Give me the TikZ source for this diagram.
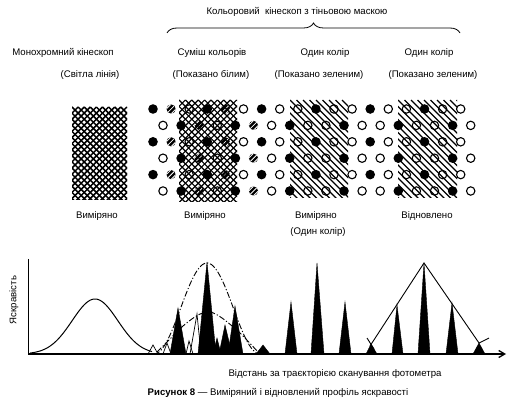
\documentclass[tikz,border=0pt]{standalone}
\usepackage{fontspec}
\setmainfont{Liberation Sans}
\usetikzlibrary{decorations.pathreplacing,arrows.meta}
\begin{document}
\begin{tikzpicture}[x=1pt,y=-1pt,
  lbl/.style={font=\fontsize{9.6}{11}\selectfont, inner sep=0pt, anchor=center},
  dashdot/.style={line width=0.9pt, dash pattern=on 6pt off 2pt on 1.2pt off 2pt},
  thinline/.style={line width=0.7pt},
  spike/.style={fill=black, draw=black, line width=0.4pt},
  ring/.style={line width=1.1pt},
  hatchline/.style={line width=1.1pt},
  crossline/.style={line width=1.2pt},
  monoline/.style={line width=1.5pt}]
\useasboundingbox (0,0) rectangle (532,419);

% ---- texts ----
\node[lbl] (title) at (297,12) {Кольоровий\ \ кінескоп з тіньовою маскою};
\draw[decorate, decoration={brace, amplitude=10pt}, line width=0.8pt] (167,33) -- (460,33);
\node[lbl] (mono) at (63,53) {Монохромний кінескоп};
\node[lbl] (monob) at (90,75) {(Світла лінія)};
\node[lbl] (mix) at (212,53) {Суміш кольорів};
\node[lbl] (mixb) at (211,75) {(Показано білим)};
\node[lbl] (one) at (325,53) {Один колір};
\node[lbl] (oneb) at (319,75) {(Показано зеленим)};
\node[lbl] (two) at (429,53) {Один колір};
\node[lbl] (twob) at (433,75) {(Показано зеленим)};

\node[lbl] (m1) at (97,216) {Виміряно};
\node[lbl] (m2) at (205,216) {Виміряно};
\node[lbl] (m3) at (316,216) {Виміряно};
\node[lbl] (m3b) at (318,232) {(Один колір)};
\node[lbl] (r4) at (427,216) {Відновлено};

% ---- monochrome crosshatch ----
\begin{scope}
  \clip (72,107) rectangle (127,200);
  \foreach \i in {-18,...,28}{
    \draw[monoline] (72+6.1*\i,107) -- ++(110,110);
    \draw[monoline] (72+6.1*\i,107) -- ++(-110,110);
  }
\end{scope}

% ---- dot grid ----
\foreach \r in {0,...,5}{
  \pgfmathsetmacro{\doty}{109+16.4*\r}
  \pgfmathtruncatemacro{\dodd}{mod(\r,2)}
  \foreach \k in {0,...,17}{
    \pgfmathsetmacro{\dotx}{153+10*\dodd+18.1*\k}
    \pgfmathtruncatemacro{\dtype}{mod(\k+2*\dodd,3)}
    \pgfmathtruncatemacro{\dmix}{\dotx<256 ? 1 : 0}
    \ifnum\dtype=0
      \fill (\dotx,\doty) circle (4.8pt);
    \else
      \ifnum\dtype=1
        \ifnum\dmix=1
          \fill (\dotx,\doty) circle (4.6pt);
          \begin{scope}
            \clip (\dotx,\doty) circle (4.6pt);
            \foreach \s in {-2.4,0,2.4}
              \draw[white, line width=0.8pt] (\dotx-7+\s,\doty+7+\s) -- (\dotx+7+\s,\doty-7+\s);
          \end{scope}
        \else
          \draw[ring] (\dotx,\doty) circle (4.2pt);
        \fi
      \else
        \draw[ring] (\dotx,\doty) circle (4.2pt);
      \fi
    \fi
  }
}

% ---- mixed crosshatch ----
\begin{scope}
  \clip (179,100) rectangle (237,202);
  \foreach \i in {-18,...,28}{
    \draw[crossline] (179+6.4*\i,100) -- ++(110,110);
    \draw[crossline] (179+6.4*\i,100) -- ++(-110,110);
  }
\end{scope}

% ---- single colour hatching ----
\foreach \xa/\xb in {290/348, 398/457}{
  \begin{scope}
    \clip (\xa,100) rectangle (\xb,198);
    \foreach \i in {-17,...,10}
      \draw[hatchline] (\xa+6.5*\i,100) -- ++(110,110);
  \end{scope}
}

% ---- graph ----
\coordinate (O) at (28,354);
\coordinate (ytop) at (28,259);
\coordinate (xend) at (506,354);
\node[lbl, rotate=90] (ylab) at (14,300) {Яскравість};
\node[lbl] (xlab) at (335,374) {Відстань за траєкторією сканування фотометра};
\node[lbl] (cap) at (278,393) {\textbf{Рисунок 8} — Виміряний і відновлений профіль яскравості};

% monochrome bell
\draw[line width=1pt] plot[domain=30:152, samples=90, smooth] (\x, {354-55*exp(-((\x-95)^2)/1042)});

% mixed spikes
\fill[spike] (170,354) -- (178,308) -- (186,354) -- cycle;
\fill[spike] (198,354) -- (207,262) -- (216,354) -- cycle;
\fill[spike] (213,354) -- (217,338) -- (221,354) -- cycle;
\fill[spike] (219,354) -- (225,325) -- (232,354) -- cycle;
\fill[spike] (228,354) -- (235,306) -- (243,354) -- cycle;
\fill[spike] (256,354) -- (263,345) -- (270,354) -- cycle;
\draw[thinline] (148,354) -- (153,345) -- (158,354);
\draw[thinline] (163,354) -- (167,343) -- (171,354);
\draw[thinline] (186,354) -- (189,341) -- (193,354);
\draw[thinline] (190,354) -- (197,314) -- (201,354);
\draw[dashdot] plot[domain=154:260, samples=60, smooth] (\x, {354-91*cos(180*(\x-207)/106)^2});
\draw[dashdot] plot[smooth] coordinates {(157,352) (168,341) (183,326) (198,315) (210,312) (222,318) (240,333) (258,352)};

% single colour measured
\fill[spike] (285,354) -- (291,302) -- (297,354) -- cycle;
\fill[spike] (311,354) -- (317,263) -- (324,354) -- cycle;
\fill[spike] (339,354) -- (345,302) -- (351,354) -- cycle;
\fill[spike] (366,354) -- (371,344) -- (377,354) -- cycle;
% reconstructed
\fill[spike] (392,354) -- (397,305) -- (403,354) -- cycle;
\fill[spike] (418,354) -- (424,263) -- (430,354) -- cycle;
\fill[spike] (446,354) -- (452,303) -- (458,354) -- cycle;
\fill[spike] (473,354) -- (479,343) -- (485,354) -- cycle;
\coordinate (rl) at (370,346);
\coordinate (rt) at (424,263);
\coordinate (rr) at (479,343);
\draw[line width=0.9pt] (rl) -- (rt) -- (rr);
\draw[line width=0.9pt] (367,338) -- (374,349);
\draw[line width=0.9pt] (rr) -- (489,338);

% axes
\draw[line width=1pt] (ytop) -- (O);
\draw[line width=1.3pt, -{Straight Barb[length=6pt,width=7pt]}] (O) -- (xend);
\end{tikzpicture}
\end{document}
